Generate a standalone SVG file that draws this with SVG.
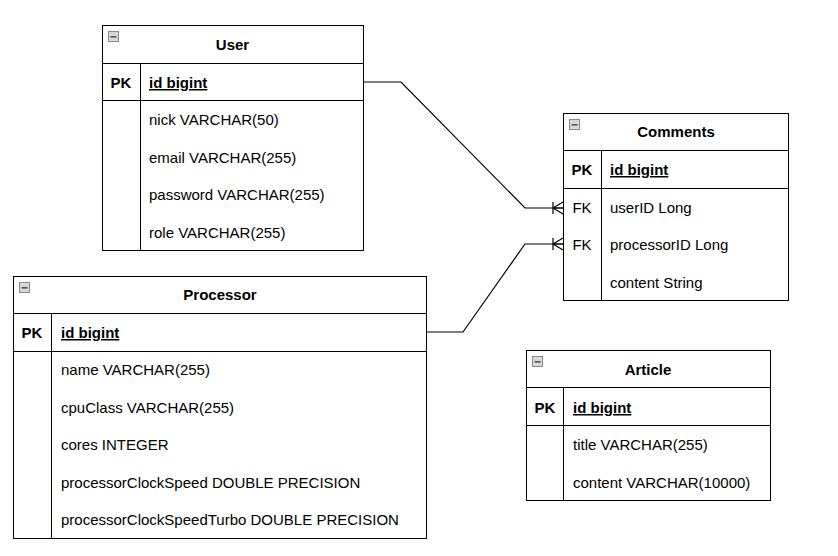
<svg xmlns="http://www.w3.org/2000/svg" width="838" height="556" viewBox="0 0 838 556">
<style>
.box{fill:#fff;stroke:#000;stroke-width:1}
.ln{stroke:#000;stroke-width:1;fill:none}
.t{font-family:"Liberation Sans",Arial,sans-serif;font-size:15px;fill:#000}
.b{font-weight:bold}
.c{text-anchor:middle}
.u{text-decoration:underline}
.con{stroke:#000;stroke-width:1.2;fill:none}
</style>
<defs>
<g id="icon">
<rect x="0.5" y="0.5" width="10" height="10" fill="#d8d8d8" stroke="#8a8a8a"/>
<rect x="2.5" y="5" width="6" height="1.6" fill="#555"/>
</g>
</defs>
<rect width="838" height="556" fill="#fff"/>

<g id="connectors">
<path class="con" d="M363,82 H401 L525,208 H563"/>
<path class="con" d="M553,202 V214 M553,208 L563,202 M553,208 H563 M553,208 L563,214"/>
<path class="con" d="M426,332 H463 L525,244 H563"/>
<path class="con" d="M553,238 V250 M553,244 L563,238 M553,244 H563 M553,244 L563,250"/>
</g>

<g id="user">
<rect class="box" x="102.5" y="25.5" width="261" height="225"/>
<path class="ln" d="M102.5,63.5 H363.5 M102.5,100.5 H363.5 M140.5,63.5 V250.5"/>
<use href="#icon" x="108" y="31"/>
<text class="t b c" x="232.5" y="50">User</text>
<text class="t b c" x="121" y="88">PK</text>
<text class="t b u" x="149" y="88">id bigint</text>
<text class="t" x="149" y="125">nick VARCHAR(50)</text>
<text class="t" x="149" y="163">email VARCHAR(255)</text>
<text class="t" x="149" y="200">password VARCHAR(255)</text>
<text class="t" x="149" y="238">role VARCHAR(255)</text>
</g>

<g id="comments">
<rect class="box" x="563.5" y="113.5" width="225" height="187"/>
<path class="ln" d="M563.5,150.5 H788.5 M563.5,188.5 H788.5 M601.5,150.5 V300.5"/>
<use href="#icon" x="569" y="119"/>
<text class="t b c" x="676" y="137">Comments</text>
<text class="t b c" x="582" y="175">PK</text>
<text class="t b u" x="610" y="175">id bigint</text>
<text class="t c" x="582" y="213">FK</text>
<text class="t" x="610" y="213">userID Long</text>
<text class="t c" x="582" y="250">FK</text>
<text class="t" x="610" y="250">processorID Long</text>
<text class="t" x="610" y="288">content String</text>
</g>

<g id="processor">
<rect class="box" x="13.5" y="276.5" width="413" height="262"/>
<path class="ln" d="M13.5,313.5 H426.5 M13.5,351.5 H426.5 M51.5,313.5 V538.5"/>
<use href="#icon" x="19" y="282"/>
<text class="t b c" x="220" y="300">Processor</text>
<text class="t b c" x="32" y="338">PK</text>
<text class="t b u" x="61" y="338">id bigint</text>
<text class="t" x="61" y="375">name VARCHAR(255)</text>
<text class="t" x="61" y="413">cpuClass VARCHAR(255)</text>
<text class="t" x="61" y="450">cores INTEGER</text>
<text class="t" x="61" y="488">processorClockSpeed DOUBLE PRECISION</text>
<text class="t" x="61" y="525">processorClockSpeedTurbo DOUBLE PRECISION</text>
</g>

<g id="article">
<rect class="box" x="526.5" y="350.5" width="244" height="150"/>
<path class="ln" d="M526.5,387.5 H770.5 M526.5,425.5 H770.5 M563.5,387.5 V500.5"/>
<use href="#icon" x="532" y="356"/>
<text class="t b c" x="648" y="375">Article</text>
<text class="t b c" x="545" y="413">PK</text>
<text class="t b u" x="573" y="413">id bigint</text>
<text class="t" x="573" y="450">title VARCHAR(255)</text>
<text class="t" x="573" y="488">content VARCHAR(10000)</text>
</g>
</svg>
